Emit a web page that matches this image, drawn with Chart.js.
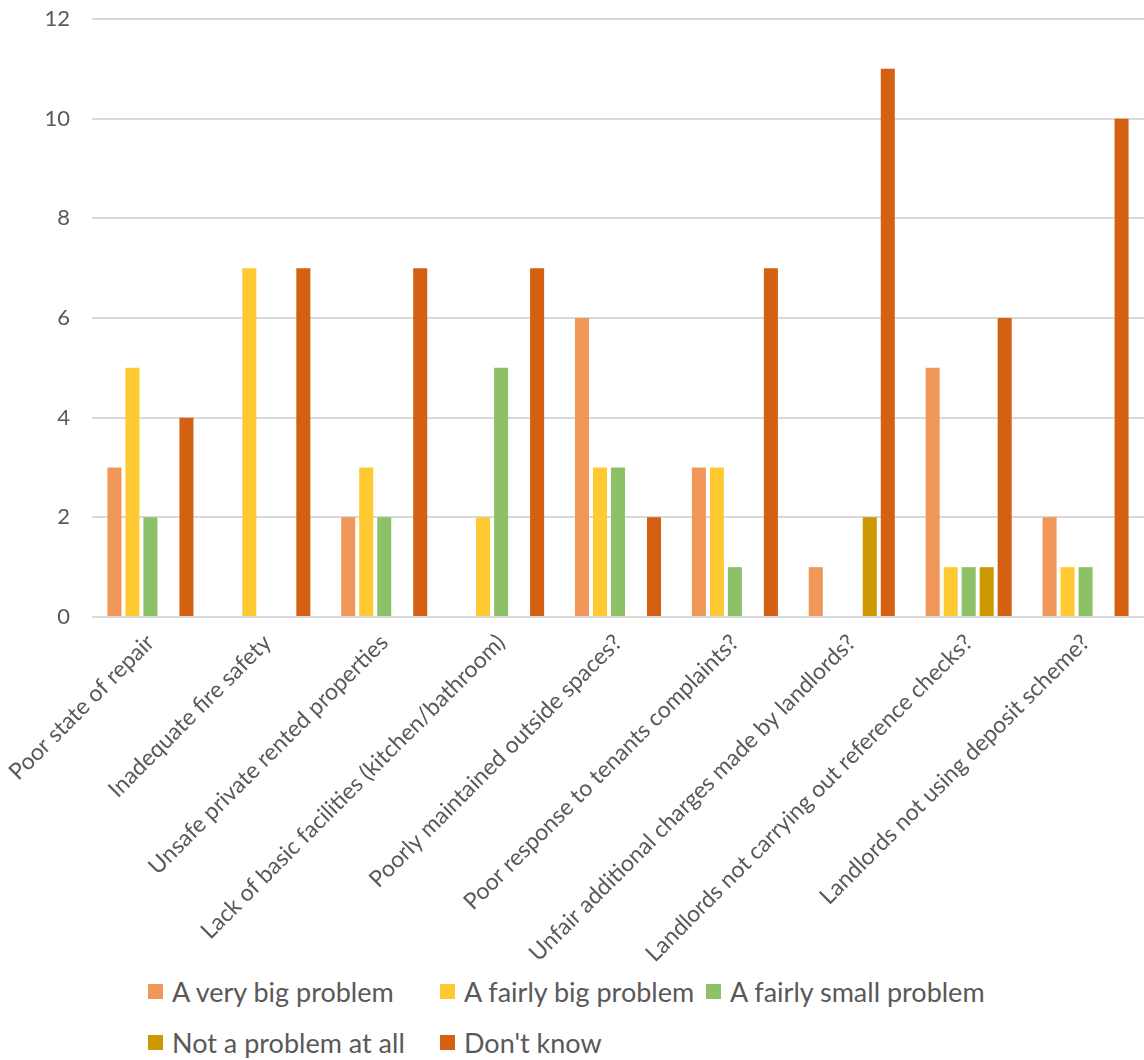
<!DOCTYPE html>
<html>
<head>
<meta charset="utf-8">
<script src="https://cdn.jsdelivr.net/npm/chart.js@4.4.1/dist/chart.umd.min.js"></script>
<style>
  html, body { margin: 0; padding: 0; background: #fff; }
  #wrap { position: relative; width: 1144px; height: 1060px; }
  #chartBox { position: absolute; left: 0; top: 0; width: 1144px; height: 965px; }
  #legend {
    position: absolute; left: 148px; top: 975px;
    display: grid; grid-template-columns: 292px 266px 300px; row-gap: 18px;
    font-family: Lato, "Open Sans", sans-serif; font-size: 27px; color: #595959;
  }
  #legend .item { display: flex; align-items: center; white-space: nowrap; }
  #legend .box { width: 15px; height: 15px; margin-right: 9px; flex: none; }
</style>
</head>
<body>
<div id="wrap">
  <div id="chartBox"><canvas id="chart"></canvas></div>
  <div id="legend"></div>
</div>
<script>
// categories (x axis)
const categories = [
  "Poor state of repair",
  "Inadequate fire safety",
  "Unsafe private rented properties",
  "Lack of basic facilities (kitchen/bathroom)",
  "Poorly maintained outside spaces?",
  "Poor response to tenants complaints?",
  "Unfair additional charges made by landlords?",
  "Landlords not carrying out reference checks?",
  "Landlords not using deposit scheme?"
];

// series values
const veryBig     = [3, 0, 2, 0, 6, 3, 1, 5, 2];
const fairlyBig   = [5, 7, 3, 2, 3, 3, 0, 1, 1];
const fairlySmall = [2, 0, 2, 5, 3, 1, 0, 1, 1];
const notProblem  = [0, 0, 0, 0, 0, 0, 2, 1, 0];
const dontKnow    = [4, 7, 7, 7, 2, 7, 11, 6, 10];

const seriesNames  = ["A very big problem", "A fairly big problem", "A fairly small problem", "Not a problem at all", "Don't know"];
const seriesColors = ["#F1975A", "#FFC931", "#8CC168", "#CC9A00", "#D46012"];
const seriesData   = [veryBig, fairlyBig, fairlySmall, notProblem, dontKnow];

// y axis ticks
const yMin = 0, yMax = 12, yStep = 2;

const textColor = '#595959';
const gridColor = '#D9D9D9';
const fontFamily = 'Lato, "Open Sans", sans-serif';

const datasets = seriesNames.map((name, i) => ({
  label: name,
  data: seriesData[i],
  backgroundColor: seriesColors[i],
  borderWidth: 0,
  categoryPercentage: 0.77,
  barPercentage: 0.78
}));

const ctx = document.getElementById('chart').getContext('2d');
new Chart(ctx, {
  type: 'bar',
  data: { labels: categories, datasets: datasets },
  options: {
    responsive: true,
    maintainAspectRatio: false,
    animation: false,
    layout: { padding: { top: 19, right: 0, left: 0, bottom: 0 } },
    plugins: {
      legend: { display: false },
      tooltip: { enabled: false }
    },
    scales: {
      x: {
        grid: { display: false },
        border: { display: false },
        afterFit: scale => { scale.height = 348; },
        ticks: {
          color: textColor,
          font: { family: fontFamily, size: 23 },
          minRotation: 45,
          maxRotation: 45,
          autoSkip: false,
          padding: 4
        }
      },
      y: {
        min: yMin,
        max: yMax,
        afterFit: scale => {
          scale.width = 92;
          scale.paddingTop = 0;
          scale.paddingBottom = 0;
        },
        grid: { color: gridColor, lineWidth: 2, drawTicks: false },
        border: { display: false },
        ticks: {
          stepSize: yStep,
          color: textColor,
          font: { family: fontFamily, size: 22 },
          padding: 22
        }
      }
    }
  }
});

// legend laid out in columns like the original
const legend = document.getElementById('legend');
seriesNames.forEach((name, i) => {
  const item = document.createElement('div');
  item.className = 'item';
  item.innerHTML = `<span class="box" style="background:${seriesColors[i]}"></span><span>${name}</span>`;
  legend.appendChild(item);
});
</script>
</body>
</html>
